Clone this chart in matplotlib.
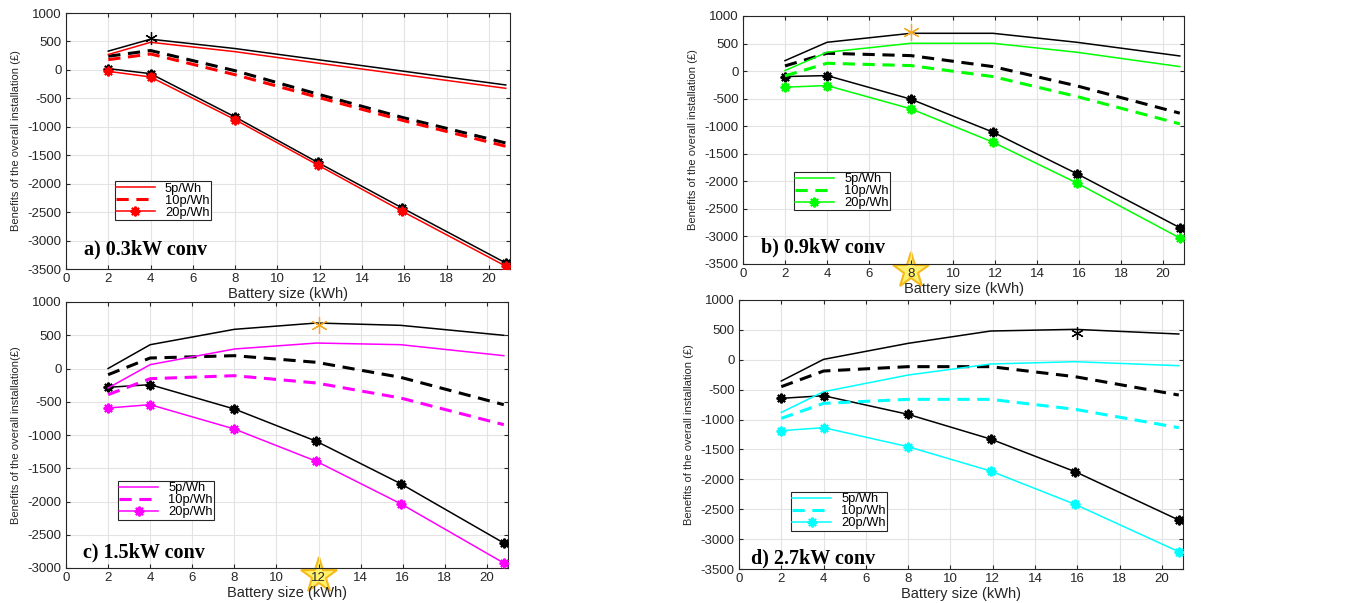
import matplotlib
matplotlib.use('Agg')
import matplotlib.pyplot as plt

plt.rcParams['font.family'] = ['Liberation Sans', 'DejaVu Sans']
plt.rcParams['axes.unicode_minus'] = False

battery = [2, 4, 8, 11.9, 15.9, 20.8]
series_names = ['5p/Wh', '10p/Wh', '20p/Wh']

# panel a) 0.3kW conv : (black reference, coloured)
a_black_5 = [330, 540, 375, 180, -20, -265]
a_col_5 = [270, 485, 320, 120, -80, -324]
a_black_10 = [240, 340, -15, -425, -835, -1285]
a_col_10 = [180, 280, -85, -480, -886, -1343]
a_black_20 = [22, -66, -828, -1625, -2427, -3394]
a_col_20 = [-25, -125, -875, -1670, -2485, -3450]

# panel b) 0.9kW conv
b_black_5 = [190, 523, 686, 686, 523, 275]
b_col_5 = [10, 342, 505, 505, 342, 82]
b_black_10 = [94, 324, 281, 82, -268, -763]
b_col_10 = [-87, 142, 100, -99, -461, -957]
b_black_20 = [-99, -81, -510, -1107, -1862, -2841]
b_col_20 = [-292, -262, -685, -1289, -2031, -3028]

# panel c) 1.5kW conv
c_black_5 = [0, 358, 589, 684, 649, 499]
c_col_5 = [-293, 58, 293, 383, 358, 193]
c_black_10 = [-93, 158, 193, 93, -133, -544]
c_col_10 = [-393, -153, -108, -218, -444, -845]
c_black_20 = [-283, -243, -609, -1095, -1732, -2624]
c_col_20 = [-594, -544, -910, -1396, -2033, -2925]

# panel d) 2.7kW conv
d_black_5 = [-355, 7, 275, 481, 509, 431]
d_col_5 = [-880, -534, -255, -71, -32, -99]
d_black_10 = [-450, -188, -115, -115, -283, -590]
d_col_10 = [-980, -729, -662, -662, -829, -1136]
d_black_20 = [-645, -601, -913, -1326, -1872, -2681]
d_col_20 = [-1186, -1136, -1454, -1861, -2419, -3211]

panels = [
    dict(title='a) 0.3kW conv', color='#ff0000', ylim=(-3500, 1000),
         black=(a_black_5, a_black_10, a_black_20), col=(a_col_5, a_col_10, a_col_20),
         best=(4, 560), best_color='black', best_ms=9, star=None,
         ylabel='Benefits of the overall installation (£)',
         pos=[66, 13, 510, 269], leg=(2.3, -1959), title_xy=(0.86, -3253)),
    dict(title='b) 0.9kW conv', color='#00ff00', ylim=(-3500, 1000),
         black=(b_black_5, b_black_10, b_black_20), col=(b_col_5, b_col_10, b_col_20),
         best=(8, 716), best_color='#f7a823', best_ms=12, star=(8, -3620),
         ylabel='Benefits of the overall installation (£)',
         pos=[743, 16, 1184, 264], leg=(2.42, -1826), title_xy=(0.84, -3282)),
    dict(title='c) 1.5kW conv', color='#ff00ff', ylim=(-3000, 1000),
         black=(c_black_5, c_black_10, c_black_20), col=(c_col_5, c_col_10, c_col_20),
         best=(12, 660), best_color='#f7a823', best_ms=12, star=(12, -3120),
         ylabel='Benefits of the overall installation(£)',
         pos=[66, 302, 508, 568], leg=(2.47, -1692), title_xy=(0.79, -2835)),
    dict(title='d) 2.7kW conv', color='#00ffff', ylim=(-3500, 1000),
         black=(d_black_5, d_black_10, d_black_20), col=(d_col_5, d_col_10, d_col_20),
         best=(16, 450), best_color='black', best_ms=9, star=None,
         ylabel='Benefits of the overall installation (£)',
         pos=[739, 300, 1183, 569], leg=(2.46, -2212), title_xy=(0.57, -3400)),
]

W, H = 1347, 603
fig = plt.figure(figsize=(W / 100, H / 100), dpi=100)
star8 = (8, 2, 0)
star6 = (6, 2, 0)

for p in panels:
    l, t, r, b = p['pos']
    ax = fig.add_axes([l / W, (H - b) / H, (r - l) / W, (b - t) / H])
    bk5, bk10, bk20 = p['black']
    c5, c10, c20 = p['col']
    col = p['color']
    ax.plot(battery, bk5, color='black', lw=1.1, zorder=3)
    ax.plot(battery, bk10, color='black', lw=2.2, ls=(0, (4, 2.5)), zorder=3)
    ax.plot(battery, bk20, color='black', lw=1.1, marker=star8, ms=7, mew=1.5, zorder=3)
    h1, = ax.plot(battery, c5, color=col, lw=1.1, zorder=3)
    h2, = ax.plot(battery, c10, color=col, lw=2.2, ls=(0, (4, 2.5)), zorder=3)
    h3, = ax.plot(battery, c20, color=col, lw=1.1, marker=star8, ms=7, mew=1.5, zorder=3)
    # best battery size marker
    ax.plot([p['best'][0]], [p['best'][1]], marker=star6, ms=p['best_ms'], mew=0.9,
            color=p['best_color'], ls='none', zorder=4)
    if p['star']:
        ax.plot([p['star'][0]], [p['star'][1]], marker='*', ms=27, mfc='#ffee55',
                mec='#f5b000', mew=1.5, alpha=0.85, ls='none', clip_on=False, zorder=1)

    ax.set_xlim(0, 21)
    ax.set_ylim(*p['ylim'])
    ax.set_xticks(range(0, 21, 2))
    ax.set_yticks(range(p['ylim'][0], 1001, 500))
    ax.grid(True, color='#e3e3e3', lw=0.8)
    ax.tick_params(direction='in', length=3, top=True, right=True, labelsize=9.5,
                   colors='#262626', pad=3)
    for s in ax.spines.values():
        s.set_color('#262626')
        s.set_linewidth(0.8)
    ax.set_xlabel('Battery size (kWh)', fontsize=10.5, color='#262626', labelpad=1)
    ax.set_ylabel(p['ylabel'], fontsize=8, color='#262626', labelpad=5)
    leg = ax.legend([h1, h2, h3], series_names, loc='upper left', bbox_to_anchor=p['leg'],
                    bbox_transform=ax.transData, borderaxespad=0,
                    fontsize=9.3, frameon=True, fancybox=False, edgecolor='#262626',
                    framealpha=1, handlelength=3.0, handleheight=0.5, borderpad=0.1,
                    labelspacing=0.0, handletextpad=0.8)
    leg.get_frame().set_linewidth(0.8)
    ax.text(p['title_xy'][0], p['title_xy'][1], p['title'], fontsize=14.5, va='baseline',
            fontweight='bold', family='Liberation Serif', zorder=5)

fig.savefig('out.png', dpi=100)
